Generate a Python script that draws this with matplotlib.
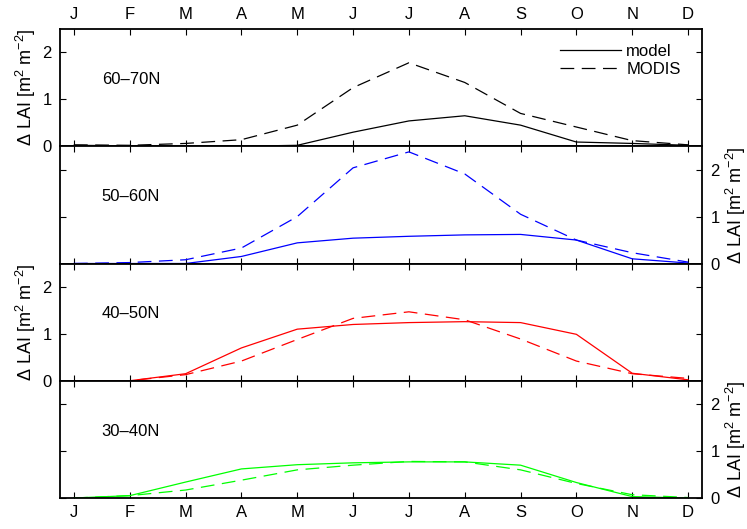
import matplotlib
matplotlib.use("Agg")
import matplotlib.pyplot as plt
import numpy as np

plt.rcParams['font.family'] = ['Liberation Sans', 'DejaVu Sans']
plt.rcParams['mathtext.fontset'] = 'custom'
plt.rcParams['mathtext.rm'] = 'Liberation Sans'
plt.rcParams['mathtext.it'] = 'Liberation Sans'

months = ['J', 'F', 'M', 'A', 'M', 'J', 'J', 'A', 'S', 'O', 'N', 'D']
month_idx = list(range(1, 13))

regions = ['60\u201370N', '50\u201360N', '40\u201350N', '30\u201340N']
colors = ['black', 'blue', 'red', (0, 1, 0)]

model_6070 = [0.02, 0.01, 0.0, 0.0, 0.02, 0.30, 0.54, 0.65, 0.45, 0.09, 0.06, 0.02]
modis_6070 = [0.03, 0.02, 0.06, 0.14, 0.45, 1.25, 1.78, 1.36, 0.70, 0.41, 0.12, 0.03]

model_5060 = [0.0, 0.0, 0.0, 0.15, 0.44, 0.54, 0.58, 0.61, 0.62, 0.50, 0.10, 0.01]
modis_5060 = [0.0, 0.02, 0.08, 0.33, 1.00, 2.04, 2.38, 1.91, 1.05, 0.50, 0.23, 0.03]

model_4050 = [0.0, 0.0, 0.15, 0.70, 1.10, 1.20, 1.24, 1.26, 1.24, 0.99, 0.16, 0.02]
modis_4050 = [0.0, 0.0, 0.13, 0.42, 0.88, 1.33, 1.47, 1.30, 0.89, 0.42, 0.15, 0.05]

model_3040 = [0.0, 0.05, 0.34, 0.62, 0.71, 0.75, 0.77, 0.77, 0.70, 0.33, 0.03, 0.0]
modis_3040 = [0.0, 0.05, 0.17, 0.38, 0.60, 0.70, 0.78, 0.77, 0.60, 0.31, 0.07, 0.01]

models = [model_6070, model_5060, model_4050, model_3040]
modises = [modis_6070, modis_5060, modis_4050, modis_3040]

ylabel = r'$\Delta$ LAI [m$^{2}$ m$^{-2}$]'

fig = plt.figure(figsize=(7.47, 5.29), dpi=100)
left, right = 60 / 747, 702 / 747
top_px, bot_px = 29, 498
ph = (bot_px - top_px) / 4

fs = 12
for i in range(4):
    y0 = 1 - (top_px + (i + 1) * ph) / 529
    ax = fig.add_axes([left, y0, right - left, ph / 529])
    c = colors[i]
    ax.plot(month_idx, models[i], color=c, lw=0.9, label='model')
    ax.plot(month_idx, modises[i], color=c, lw=0.9, dashes=(11, 6), label='MODIS')
    ax.set_xlim(0.75, 12.25)
    ax.set_ylim(0, 2.5)
    ax.set_xticks(month_idx)
    ax.set_yticks([0, 1, 2])
    ax.tick_params(axis='both', which='both', direction='in', length=4.5,
                   width=0.8, top=True, bottom=True, left=True, right=True,
                   labelsize=fs, pad=6)
    for sp in ax.spines.values():
        sp.set_linewidth(1.3)
    ax.set_xticklabels(months)
    ax.tick_params(axis='x', labelbottom=(i == 3), labeltop=(i == 0), pad=5)
    if i % 2 == 0:
        ax.tick_params(axis='y', labelleft=True, labelright=False)
        ax.set_ylabel(ylabel, fontsize=13, labelpad=3)
    else:
        ax.tick_params(axis='y', labelleft=False, labelright=True)
        ax.yaxis.set_label_position('right')
        ax.set_ylabel(ylabel, fontsize=13, labelpad=3, rotation=90)
    ax.text(0.065, 0.57, regions[i], transform=ax.transAxes, fontsize=fs,
            va='center', ha='left')
    if i == 0:
        ax.legend(loc='upper right', frameon=False, fontsize=fs,
                  handlelength=3.7, handletextpad=0.3, labelspacing=0.15,
                  borderaxespad=0.3, bbox_to_anchor=(0.985, 0.97))

fig.savefig('out.png', dpi=100)
